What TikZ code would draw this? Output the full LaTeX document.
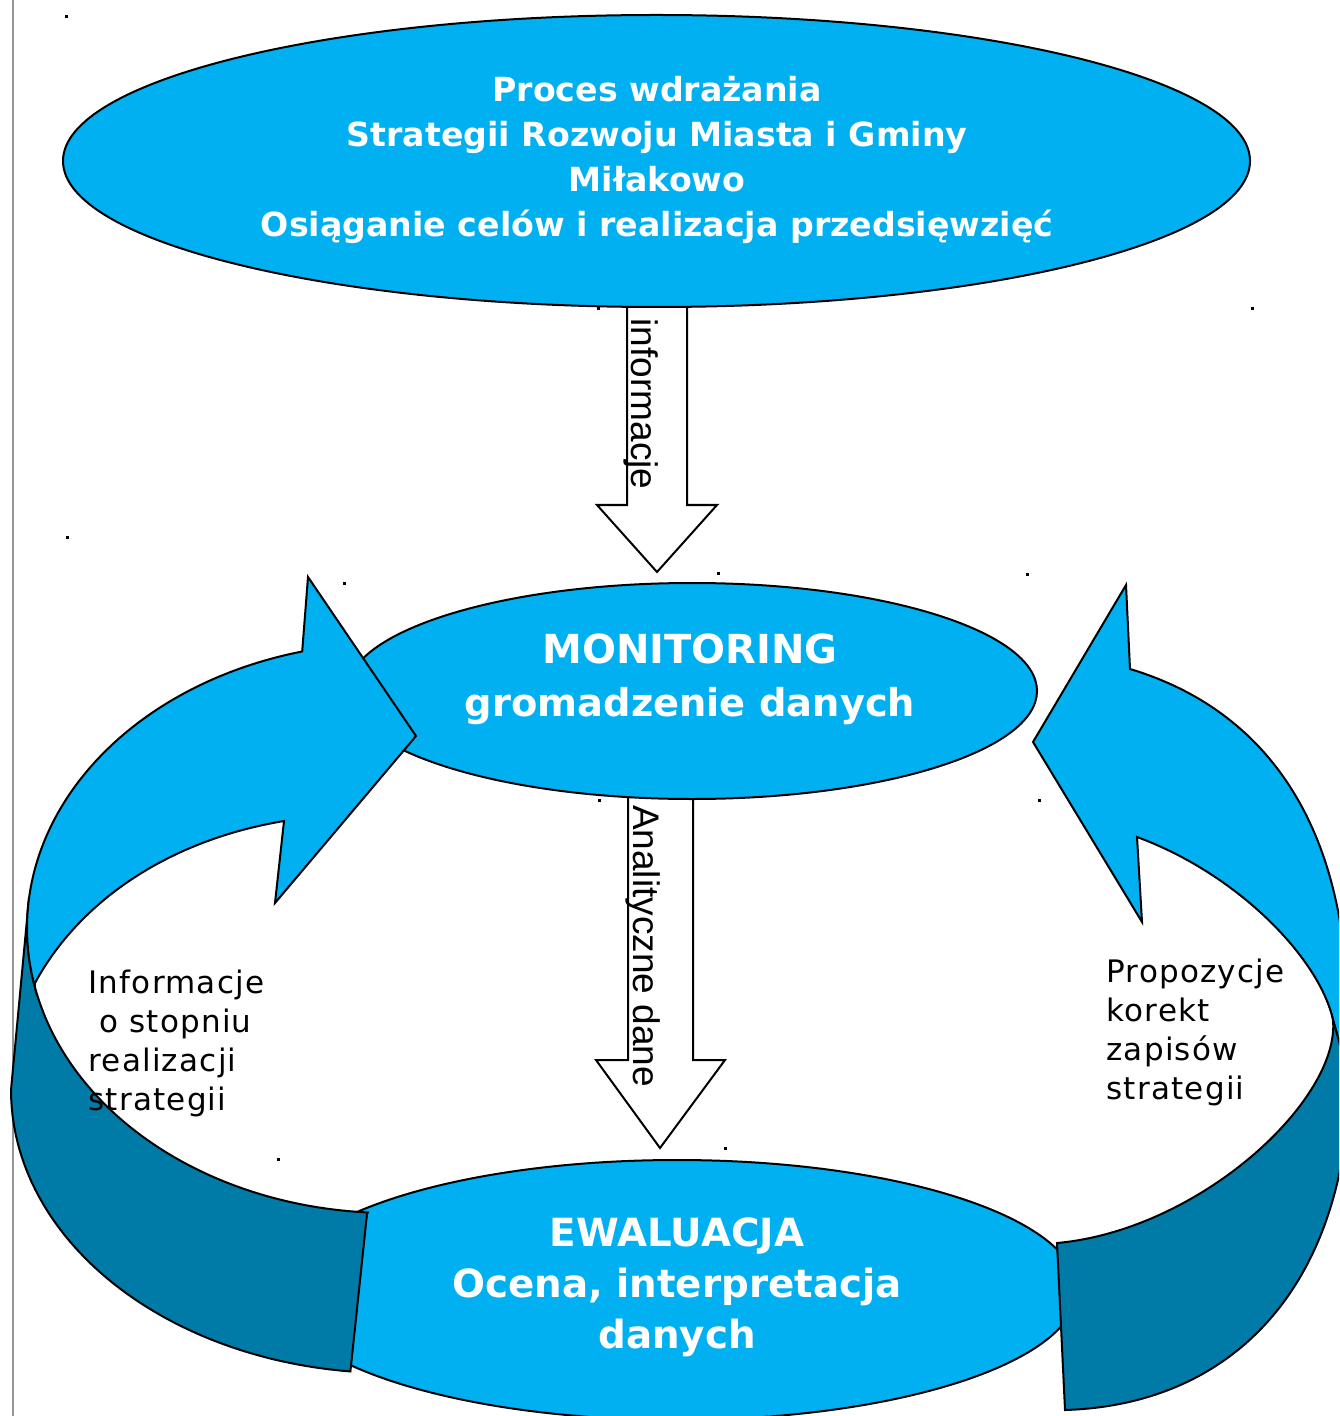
\documentclass[tikz,border=0pt]{standalone}
\usepackage{fontspec}
\setmainfont{DejaVu Sans}
\newfontfamily\arialf{Liberation Sans}
\newfontfamily\lblfont[LetterSpace=4]{DejaVu Sans}
\usetikzlibrary{shapes.geometric}
\definecolor{lblue}{RGB}{0,176,240}
\definecolor{dblue}{RGB}{0,123,168}
\definecolor{edgegray}{RGB}{150,150,150}
\tikzset{
  ell/.style={ellipse, draw=black, fill=lblue, line width=1pt, inner sep=0pt},
  lband/.style={draw=black, fill=lblue, line width=1pt, line join=miter},
  dband/.style={draw=black, fill=dblue, line width=1pt, line join=miter},
  blockarrow/.style={draw=black, fill=white, line width=1pt},
  ttl/.style={text=white, align=center, inner sep=0pt},
  lbl/.style={text=black, align=left, inner sep=0pt, anchor=north west, font=\lblfont\fontsize{15.5}{19.5}\selectfont},
  rot/.style={rotate=-90, inner sep=0pt, font=\arialf\fontsize{18.5}{20}\selectfont},
  speck/.style={fill=black}
}
\begin{document}
\begin{tikzpicture}[x=0.5pt,y=-0.5pt]
\useasboundingbox (0,0) rectangle (1339,1416);
\fill[white] (0,0) rectangle (1339,1416);
\clip (0,0) rectangle (1339,1416);

% left border line
\coordinate (gtop) at (13,0);
\coordinate (gbot) at (13,1416);
\draw[edgegray, line width=1pt] (gtop) -- (gbot);

% block arrows
\draw[blockarrow] (627,300) -- (627,505) -- (597,505) -- (657,572) -- (717,505) -- (687,505) -- (687,300) -- cycle;
\draw[blockarrow] (628,790) -- (628,1060) -- (596,1060) -- (660,1148) -- (725,1060) -- (693,1060) -- (693,790) -- cycle;

% ellipses
\node[ell, minimum width=593.5pt, minimum height=146pt] (proc) at (656.5,161) {};
\node[ell, minimum width=400pt, minimum height=130pt] (ewal) at (677,1290) {};
\node[ell, minimum width=345pt, minimum height=108pt] (mon) at (692,691) {};

% left curved arrow: dark back band
\filldraw[dband] (29,898) -- (11,1090)
  -- plot[domain=0:84, samples=50, variable=\t] ({390+379*cos(180-\t)},{1090+283*sin(180-\t)})
  -- (367,1214)
  -- plot[domain=93.5:186, samples=60, variable=\t] ({390+363*cos(\t)},{928+285*sin(\t)})
  -- cycle;
% left curved arrow: light front band with head
\filldraw[lband] plot[domain=168:256, samples=60, variable=\t] ({390+363*cos(\t)},{928+285*sin(\t)})
  -- (308,577) -- (416,736) -- (275,903) -- (284,821)
  .. controls (170,840) and (80,900) .. (35,983) -- cycle;

% right curved arrow: light front band with head
\filldraw[lband] (1130,669) .. controls (1250,705) and (1330,800) .. (1345,960)
  -- (1350,1080) -- (1333,1020)
  .. controls (1320,960) and (1240,875) .. (1137,837)
  -- (1142,922) -- (1033,742) -- (1126,585) -- cycle;
% right curved arrow: dark back band
\filldraw[dband] (1333,1020) .. controls (1340,1100) and (1200,1230) .. (1057,1243)
  -- (1065,1410) .. controls (1230,1405) and (1345,1290) .. (1350,1080) -- cycle;

% texts
\node[ttl, font=\bfseries\fontsize{16.6}{22.5}\selectfont] (proctext) at (657,160)
  {Proces wdrażania\\Strategii Rozwoju Miasta i Gminy\\Miłakowo\\Osiąganie celów i realizacja przedsięwzięć};
\node[ttl, font=\bfseries\fontsize{20}{26.5}\selectfont] (montext) at (690,679)
  {MONITORING\\{\fontsize{19.2}{26.5}\selectfont gromadzenie danych}};
\node[ttl, font=\bfseries\fontsize{19.4}{25.5}\selectfont] (ewaltext) at (677,1287)
  {EWALUACJA\\Ocena, interpretacja\\danych};
\node[rot] (info) at (641,404) {informacje};
\node[rot] (anal) at (643,946) {Analityczne dane};
\node[lbl] (leftlbl) at (88,970) {Informacje\\\hspace*{0.35em}o stopniu\\realizacji\\strategii};
\node[lbl] (rightlbl) at (1106,959) {Propozycje\\korekt\\zapisów\\strategii};

% specks
\foreach \px/\py in {65/15, 66/536, 343/582, 597/307, 717/572, 1026/573, 1251/307, 598/799, 1038/799, 277/1158, 724/1147}
  \fill[speck] (\px,\py) rectangle ++(3,3);
\end{tikzpicture}
\end{document}
